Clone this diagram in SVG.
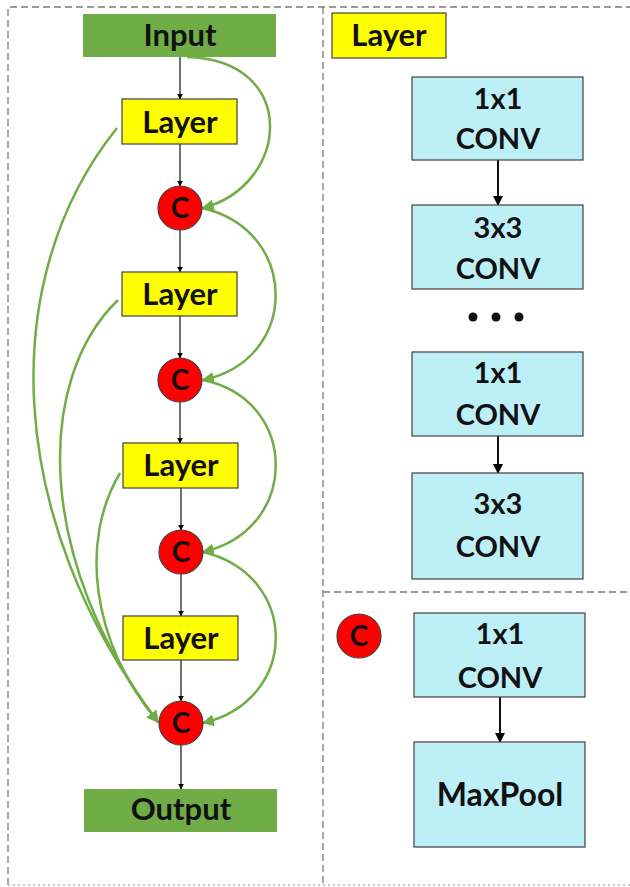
<svg xmlns="http://www.w3.org/2000/svg" width="630" height="887" viewBox="0 0 630 887">
<defs>
<marker id="ab" viewBox="0 0 10 10" refX="9" refY="5" markerWidth="6" markerHeight="6" orient="auto" markerUnits="userSpaceOnUse"><path d="M0,0 L10,5 L0,10 z" fill="#000"/></marker>
<marker id="abig" viewBox="0 0 10 10" refX="9" refY="5" markerWidth="10" markerHeight="10" orient="auto" markerUnits="userSpaceOnUse"><path d="M0,0 L10,5 L0,10 z" fill="#000"/></marker>
<marker id="ag" viewBox="0 0 10 10" refX="9" refY="5" markerWidth="12" markerHeight="12" orient="auto" markerUnits="userSpaceOnUse"><path d="M0,0 L10,5 L0,10 z" fill="#70AD47"/></marker>
</defs>
<style>
.dash{fill:none;stroke:#7a7a7a;stroke-width:1.3;stroke-dasharray:7,4}
.io{fill:#70AD47}
.lay{fill:#FFFF00;stroke:#404040;stroke-width:1.2}
.cc{fill:#FF0000;stroke:#404040;stroke-width:1.2}
.conv{fill:#BDEFF7;stroke:#404040;stroke-width:1.2}
.t{font-family:Lato,"Open Sans","Liberation Sans",sans-serif;font-weight:bold;fill:#111;text-anchor:middle}
.big{font-size:31px}
.mid{font-size:29px}
.mp{font-size:32px}
.ct{font-size:28px}
.blk{fill:none;stroke:#111;stroke-width:1.2;marker-end:url(#ab)}
.blk2{fill:none;stroke:#111;stroke-width:2;marker-end:url(#abig)}
.grn{fill:none;stroke:#70AD47;stroke-width:2.5;marker-end:url(#ag)}
</style>
<rect width="630" height="887" fill="#fff"/>
<g id="frame">
<path class="dash" d="M8,885 L8,7 L630,7"/>
<path class="dash" d="M323,7 L323,887"/>
<path class="dash" d="M323,592 L630,592"/>
<path class="dash" d="M8,885 L630,885" style="stroke-dasharray:2,3;stroke:#bbb"/>
</g>
<g id="connectors">
<path class="blk" d="M180,57 L180,99"/>
<path class="blk" d="M180,144 L180,186"/>
<path class="blk" d="M180,230 L180,272"/>
<path class="blk" d="M180,316 L180,358"/>
<path class="blk" d="M180,402 L180,443"/>
<path class="blk" d="M181,488 L181,530"/>
<path class="blk" d="M181,574 L181,616"/>
<path class="blk" d="M181,660 L181,701"/>
<path class="blk" d="M181,745 L181,789"/>
<path class="grn" d="M187,57 C300,60 290,185 203,208"/>
<path class="grn" d="M202,208 C300,230 300,360 203,380"/>
<path class="grn" d="M203,380 C300,400 300,530 203,552"/>
<path class="grn" d="M203,552 C300,575 300,700 203,723"/>
<path class="grn" d="M117,128 C-5,280 5,520 158,722"/>
<path class="grn" d="M118,300 C35,380 35,560 158,722"/>
<path class="grn" d="M120,473 C80,540 90,640 158,722"/>
<path class="blk2" d="M498,160 L498,205"/>
<path class="blk2" d="M498,436 L498,473"/>
<path class="blk2" d="M500,697 L500,742"/>
</g>
<g id="input"><rect class="io" x="83" y="14" width="193" height="43"/><text class="t big" x="180" y="46">Input</text></g>
<g id="layer1"><rect class="lay" x="122" y="99" width="115" height="45"/><text class="t big" x="180" y="133">Layer</text></g>
<g id="c1"><circle class="cc" cx="180" cy="208" r="22"/><text class="t ct" x="180" y="218">C</text></g>
<g id="layer2"><rect class="lay" x="122" y="272" width="115" height="44"/><text class="t big" x="180" y="305">Layer</text></g>
<g id="c2"><circle class="cc" cx="180" cy="380" r="22"/><text class="t ct" x="180" y="390">C</text></g>
<g id="layer3"><rect class="lay" x="123" y="443" width="115" height="45"/><text class="t big" x="181" y="476">Layer</text></g>
<g id="c3"><circle class="cc" cx="181" cy="552" r="22"/><text class="t ct" x="181" y="562">C</text></g>
<g id="layer4"><rect class="lay" x="123" y="616" width="115" height="44"/><text class="t big" x="181" y="649">Layer</text></g>
<g id="c4"><circle class="cc" cx="181" cy="723" r="22"/><text class="t ct" x="181" y="733">C</text></g>
<g id="output"><rect class="io" x="84" y="789" width="193" height="43"/><text class="t big" x="181" y="820">Output</text></g>
<g id="layer-legend"><rect class="lay" x="332" y="13" width="114" height="45"/><text class="t big" x="389" y="46">Layer</text></g>
<g id="conv1"><rect class="conv" x="412" y="77" width="171" height="83"/><text class="t mid" x="498" y="109">1x1</text><text class="t mid" x="498" y="149">CONV</text></g>
<g id="conv2"><rect class="conv" x="412" y="205" width="171" height="84"/><text class="t mid" x="498" y="238">3x3</text><text class="t mid" x="498" y="279">CONV</text></g>
<g id="dots"><circle cx="473" cy="317" r="4.5" fill="#111"/><circle cx="496" cy="317" r="4.5" fill="#111"/><circle cx="519" cy="317" r="4.5" fill="#111"/></g>
<g id="conv3"><rect class="conv" x="412" y="352" width="171" height="84"/><text class="t mid" x="498" y="383">1x1</text><text class="t mid" x="498" y="425">CONV</text></g>
<g id="conv4"><rect class="conv" x="412" y="473" width="171" height="106"/><text class="t mid" x="498" y="514">3x3</text><text class="t mid" x="498" y="557">CONV</text></g>
<g id="c-legend"><circle class="cc" cx="359" cy="636" r="22"/><text class="t ct" x="359" y="646">C</text></g>
<g id="conv5"><rect class="conv" x="414" y="613" width="171" height="84"/><text class="t mid" x="500" y="644">1x1</text><text class="t mid" x="500" y="688">CONV</text></g>
<g id="maxpool"><rect class="conv" x="414" y="742" width="171" height="105"/><text class="t mp" x="500" y="806">MaxPool</text></g>
</svg>
